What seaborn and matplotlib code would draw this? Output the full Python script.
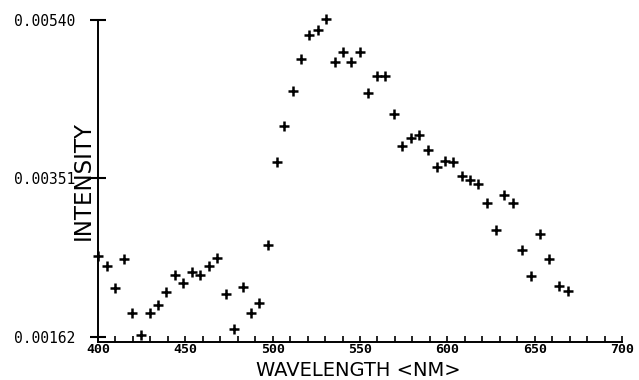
import matplotlib
matplotlib.use("Agg")
import matplotlib.pyplot as plt
from matplotlib.ticker import MultipleLocator, FixedLocator
import seaborn as sns
import pandas as pd

wavelength = [400.2, 405.0, 409.9, 414.7, 419.6, 424.4, 429.6, 434.4, 439.1, 443.9,
              448.8, 453.8, 458.4, 463.4, 468.1, 473.1, 478.0, 482.8, 487.8, 492.2,
              497.5, 502.3, 506.7, 511.5, 516.2, 521.0, 525.8, 530.5, 535.5, 540.1,
              545.0, 549.8, 554.7, 559.7, 564.5, 569.5, 574.2, 579.2, 583.9, 589.1,
              593.9, 598.8, 603.4, 608.2, 613.0, 617.7, 622.7, 627.7, 632.4, 637.8,
              642.7, 647.9, 653.2, 658.4, 663.8, 668.9]
intensity = [0.002586, 0.002469, 0.002209, 0.002544, 0.001911, 0.001643, 0.001911, 0.002002,
             0.002162, 0.002363, 0.002268, 0.002391, 0.002355, 0.002461, 0.002563, 0.002127,
             0.001719, 0.002214, 0.001911, 0.002031, 0.002718, 0.003703, 0.004141, 0.004551,
             0.004932, 0.005220, 0.005279, 0.005412, 0.004897, 0.005015, 0.004905, 0.005015,
             0.004531, 0.004732, 0.004732, 0.004278, 0.003895, 0.003997, 0.004024, 0.003852,
             0.003644, 0.003723, 0.003706, 0.003541, 0.003494, 0.003443, 0.003222, 0.002893,
             0.003314, 0.003222, 0.002654, 0.002347, 0.002846, 0.002544, 0.002229, 0.002174]

y_ticks = [0.00162, 0.00351, 0.00540]
y_tick_labels = ["0.00162", "0.00351", "0.00540"]
x_ticks = [400, 450, 500, 550, 600, 650, 700]
x_tick_labels = ["400", "450", "500", "550", "600", "650", "700"]

df = pd.DataFrame({"wavelength": wavelength, "intensity": intensity})

sns.set_theme(style="ticks")
plt.rcParams['font.family'] = ['DejaVu Sans']

fig = plt.figure(figsize=(6.39, 3.80), dpi=100)
ax = fig.add_axes([98 / 639, 1 - 342 / 380, (622 - 98) / 639, (342 - 20) / 380])

sns.scatterplot(data=df, x="wavelength", y="intensity", marker="+", color="black",
                s=45, linewidth=1.8, ax=ax, legend=False, clip_on=False)

ax.set_xlim(400, 700)
ax.set_ylim(0.00156, 0.00540)

for s in ["top", "right"]:
    ax.spines[s].set_visible(False)
for s in ["left", "bottom"]:
    ax.spines[s].set_color("black")
    ax.spines[s].set_linewidth(1.4)

ax.yaxis.set_major_locator(FixedLocator(y_ticks))
ax.set_yticklabels(y_tick_labels, fontfamily="DejaVu Sans Mono", fontsize=10.5, color="black")
ax.tick_params(axis="y", which="major", direction="inout", length=11, width=1.5, pad=11, colors="black")

ax.xaxis.set_major_locator(FixedLocator(x_ticks))
ax.xaxis.set_minor_locator(MultipleLocator(10))
ax.set_xticklabels(x_tick_labels, fontfamily="DejaVu Sans Mono", fontsize=9.5, fontweight="bold", color="black")
ax.tick_params(axis="x", which="both", direction="in", length=4, width=1.2, pad=0.5, colors="black")

ax.set_xlabel("")
ax.set_ylabel("")
fig.text(358 / 639, 0.5 / 380, "WAVELENGTH <NM>", fontsize=14,
         ha="center", va="bottom", color="black")
fig.text(83 / 639, 1 - 181 / 380, "INTENSITY", rotation=90, fontsize=16.5,
         ha="center", va="center", color="black")

fig.savefig("out.png", dpi=100, facecolor="white")
